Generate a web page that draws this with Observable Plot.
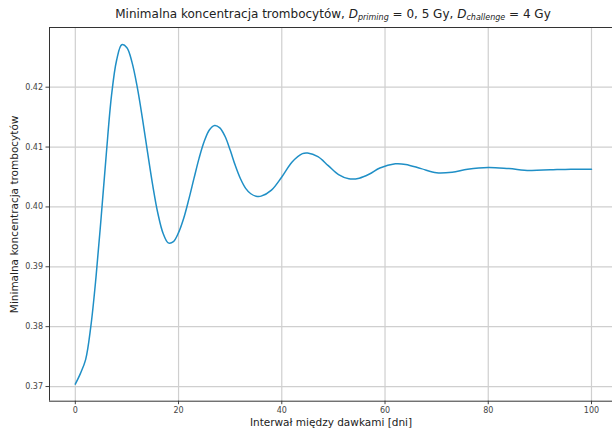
<!DOCTYPE html>
<html>
<head>
<meta charset="utf-8">
<script src="https://cdn.jsdelivr.net/npm/d3@7"></script>
<script src="https://cdn.jsdelivr.net/npm/@observablehq/plot@0.6"></script>
<style>
  body { margin: 0; background: #fff; font-family: "DejaVu Sans", sans-serif; }
  #wrap { width: 612px; height: 430px; overflow: hidden; }
  #title { height: 24px; width: 612px; box-sizing: border-box; padding-left: 54px; text-align: center; font-size: 12px; line-height: 28px; color: #222; white-space: nowrap; }
  #title sub { font-size: 8px; font-style: italic; vertical-align: -2px; line-height: 0; }
</style>
</head>
<body>
<div id="wrap">
  <div id="title">Minimalna koncentracja trombocytów, <i>D</i><sub>priming</sub> = 0, 5 Gy, <i>D</i><sub>challenge</sub> = 4 Gy</div>
  <div id="chart"></div>
</div>
<script>
const days = [0,1,2,3,4,5,6,7,8,9,10,11,12,13,14,15,16,17,18,19,20,21,22,23,24,25,26,27,28,29,30,31,32,33,34,35,36,38,40,42,44,45,47,49,51,53,55,57,59,62,64,67,70,73,76,80,84,88,92,96,100];
const minPlatelets = [0.3704,0.3722,0.3745,0.3800,0.3882,0.3982,0.4088,0.4185,0.4245,0.4271,0.4266,0.4241,0.4200,0.4148,0.4091,0.4036,0.3989,0.3956,0.3940,0.3942,0.3957,0.3981,0.4013,0.4048,0.4082,0.4110,0.4129,0.4136,0.4132,0.4118,0.4095,0.4069,0.4047,0.4031,0.4022,0.4018,0.4018,0.4028,0.4050,0.4075,0.4089,0.4090,0.4084,0.4069,0.4054,0.4047,0.4048,0.4055,0.4065,0.4072,0.4071,0.4064,0.4057,0.4058,0.4063,0.4066,0.4064,0.4061,0.4062,0.4063,0.4063];
const xTicks = [0,20,40,60,80,100];
const yTicks = [0.37,0.38,0.39,0.40,0.41,0.42];
const xDomain = [-5, 104.07];
const yDomain = [0.36755, 0.42997];

const data = days.map((d, i) => ({day: d, value: minPlatelets[i]}));

const plot = Plot.plot({
  width: 612,
  height: 406,
  marginLeft: 49,
  marginRight: 0,
  marginTop: 3,
  marginBottom: 29.3,
  style: { fontFamily: "DejaVu Sans", fontSize: "8px", color: "#333", background: "#fff" },
  x: { domain: xDomain, ticks: xTicks, tickFormat: d => String(d), label: null },
  y: { domain: yDomain, ticks: yTicks, tickFormat: d => d.toFixed(2), label: null },
  marks: [
    Plot.gridX(xTicks, { stroke: "#cfcfcf", strokeOpacity: 1, strokeWidth: 1.2 }),
    Plot.gridY(yTicks, { stroke: "#cfcfcf", strokeOpacity: 1, strokeWidth: 1.2 }),
    Plot.axisX(xTicks, { tickSize: 3.5, tickPadding: 3, stroke: "#444", fill: "#444", label: null }),
    Plot.axisY(yTicks, { tickSize: 3.5, tickPadding: 3, stroke: "#444", fill: "#444", tickFormat: d => d.toFixed(2), label: null }),
    Plot.ruleX([xDomain[0]], { stroke: "#333", strokeWidth: 1 }),
    Plot.ruleY([yDomain[0], yDomain[1]], { stroke: "#333", strokeWidth: 1 }),
    Plot.line(data, { x: "day", y: "value", curve: "catmull-rom", stroke: "#1f8fc6", strokeWidth: 1.5 }),
    Plot.text(["Interwał między dawkami [dni]"], { frameAnchor: "bottom", dy: 21, fontSize: 10.5, fill: "#222", lineAnchor: "middle" }),
    Plot.text(["Minimalna koncentracja trombocytów"], { frameAnchor: "left", dx: -35, rotate: -90, fontSize: 10.5, fill: "#222", textAnchor: "middle", lineAnchor: "middle" })
  ]
});
plot.style.overflow = "visible";
document.getElementById("chart").appendChild(plot);
</script>
</body>
</html>
